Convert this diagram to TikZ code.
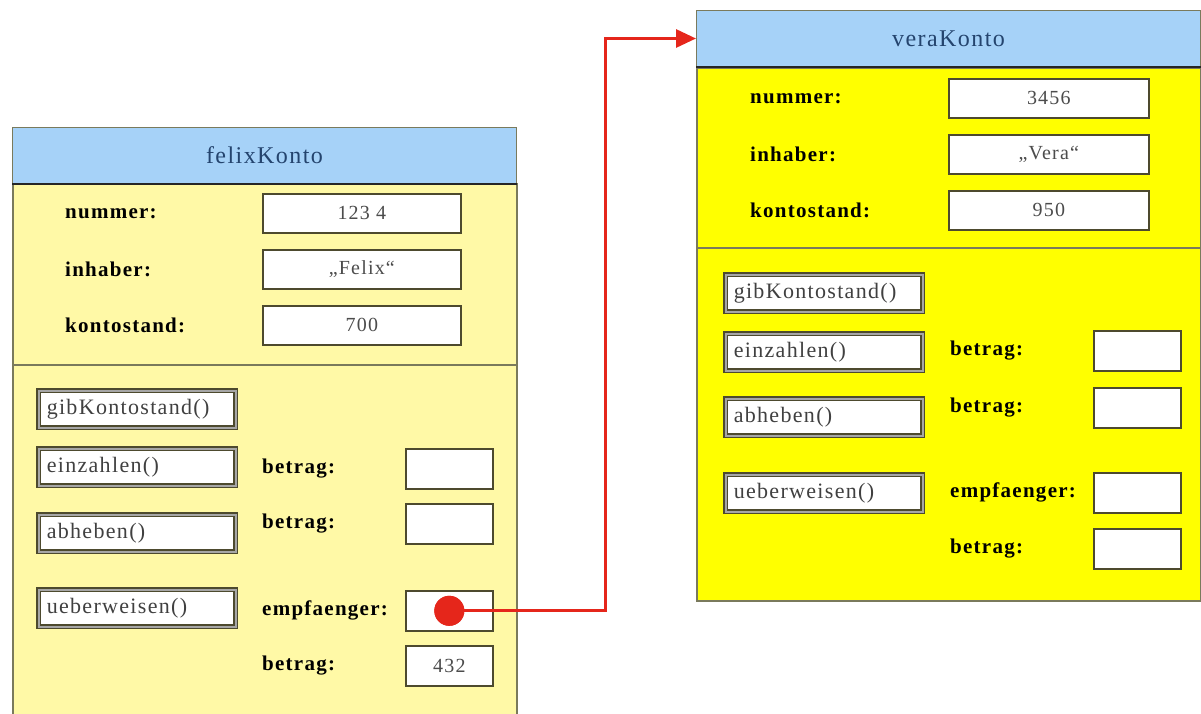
\documentclass[tikz,border=0pt]{standalone}
\usepackage{fontspec}
\usepackage{tikz}
\usetikzlibrary{arrows.meta}

\newfontfamily\umlfont[LetterSpace=6]{Liberation Serif}

\definecolor{headblue}{HTML}{A6D2F8}
\definecolor{paleyellow}{HTML}{FFF9A6}
\definecolor{brightyellow}{HTML}{FFFF00}
\definecolor{framegray}{HTML}{7A7A5C}
\definecolor{boxline}{HTML}{4D4A2E}
\definecolor{titleblue}{HTML}{24446E}
\definecolor{arrowred}{HTML}{E5261B}

\begin{document}
\begin{tikzpicture}[x=1pt,y=-1pt,
  objhead/.style={draw=framegray,fill=headblue,line width=1pt,anchor=north west,
    minimum width=504pt,minimum height=56pt,inner sep=0pt,text=titleblue,
    font=\umlfont\fontsize{24}{28}\selectfont},
  objbody/.style={draw=framegray,fill=#1,line width=2pt,anchor=north west,
    minimum width=504pt,inner sep=0pt},
  headline/.style={line width=2.5pt,black!85},
  sepline/.style={line width=1.2pt,framegray},
  valbox/.style={draw=boxline,line width=1.6pt,fill=white,anchor=north west,
    minimum width=198pt,minimum height=39pt,inner sep=0pt,text=black!70,
    font=\umlfont\fontsize{20}{24}\selectfont},
  parbox/.style={valbox,minimum width=87pt,minimum height=40pt},
  attr/.style={anchor=west,inner sep=0pt,font=\umlfont\bfseries\fontsize{21}{24}\selectfont},
  meth/.style={draw=boxline,double=black!35,double distance=1.6pt,line width=1.5pt,
    fill=white,anchor=north west,text width=181pt,inner xsep=8pt,inner ysep=0pt,
    minimum height=37pt,align=left,text=black!75,
    font=\umlfont\fontsize{22}{26}\selectfont},
  ref/.style={line width=3pt,arrowred,-{Triangle[length=20pt,width=18pt]}},
  refdot/.style={circle,fill=arrowred,minimum size=30pt,inner sep=0pt}]

\clip (0,0) rectangle (1201,713);

%felixKonto
\node[objbody=paleyellow,minimum height=560pt] (felixbody) at (12,183) {};
\node[objhead] (felixhead) at (12,127) {felixKonto};
\draw[headline] (felixhead.south west) -- (felixhead.south east);
\draw[sepline] (12,365) -- (516,365);

\foreach \lab/\val [count=\i] in {nummer:/123 4,inhaber:/„Felix“,kontostand:/700}{
  \node[valbox] (f-val-\i) at (262,{137+56*\i}) {\val};
  \node[attr] (f-attr-\i) at (65,0 |- f-val-\i) {\lab};
}

\foreach \name/\y [count=\i] in {gibKontostand()/390,einzahlen()/448,abheben()/514,ueberweisen()/589}
  \node[meth] (f-meth-\i) at (38,\y) {\name};

\foreach \lab/\y/\val [count=\i] in {betrag:/448/,betrag:/503/,empfaenger:/590/,betrag:/645/432}{
  \node[parbox] (f-par-\i) at (405,\y) {\val};
  \node[attr] (f-plab-\i) at (262,0 |- f-par-\i) {\lab};
}

%veraKonto
\node[objbody=brightyellow,minimum height=533pt] (verabody) at (696,67) {};
\node[objhead] (verahead) at (696,10) {veraKonto};
\draw[headline] (verahead.south west) -- (verahead.south east);
\draw[sepline] (696,248) -- (1200,248);

\foreach \lab/\val [count=\i] in {nummer:/3456,inhaber:/„Vera“,kontostand:/950}{
  \node[valbox,minimum width=200pt] (v-val-\i) at (948,{22+56*\i}) {\val};
  \node[attr] (v-attr-\i) at (750,0 |- v-val-\i) {\lab};
}

\foreach \name/\y [count=\i] in {gibKontostand()/274,einzahlen()/333,abheben()/398,ueberweisen()/474}
  \node[meth] (v-meth-\i) at (725,\y) {\name};

\foreach \lab/\y [count=\i] in {betrag:/330,betrag:/387,empfaenger:/472,betrag:/528}{
  \node[parbox] (v-par-\i) at (1093,\y) {};
  \node[attr] (v-plab-\i) at (950,0 |- v-par-\i) {\lab};
}

%reference
\coordinate (turn) at (605,0);
\node[refdot] (dot) at (f-par-3.center) {};
\draw[ref] (dot.center) -- (dot -| turn) |- (verahead.west);
\node[refdot] at (dot) {};
\end{tikzpicture}
\end{document}
